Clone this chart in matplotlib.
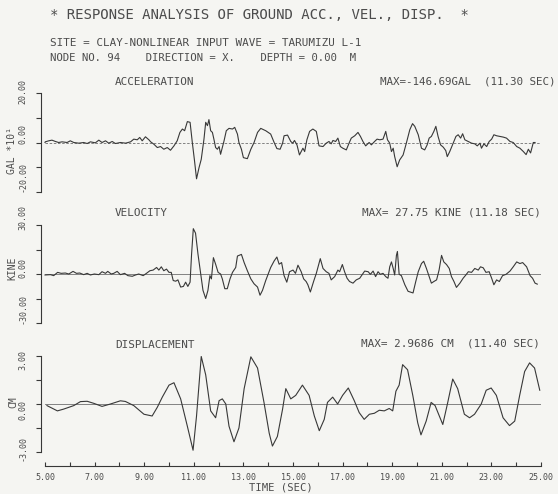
import matplotlib
matplotlib.use("Agg")
import matplotlib.pyplot as plt

acc_t = [5.00, 5.01, 5.15, 5.28, 5.42, 5.55, 5.69, 5.89, 6.02, 6.16, 6.36, 6.56, 6.70, 6.83, 7.03, 7.17,
         7.30, 7.44, 7.57, 7.71, 7.84, 8.04, 8.25, 8.45, 8.58, 8.72, 8.82, 8.92, 9.05, 9.19, 9.26, 9.39,
         9.53, 9.66, 9.79, 9.93, 10.06, 10.20, 10.33, 10.44, 10.54, 10.63, 10.74, 10.85, 10.94, 11.03,
         11.11, 11.21, 11.30, 11.41, 11.48, 11.55, 11.61, 11.68, 11.75, 11.81, 11.88, 11.95, 12.02, 12.08,
         12.15, 12.22, 12.31, 12.42, 12.56, 12.65, 12.76, 12.82, 12.92, 13.00, 13.16, 13.30, 13.43, 13.57,
         13.70, 13.90, 14.10, 14.24, 14.35, 14.48, 14.58, 14.64, 14.78, 14.91, 14.99, 15.06, 15.16, 15.26,
         15.40, 15.47, 15.56, 15.67, 15.80, 15.94, 16.05, 16.21, 16.34, 16.45, 16.54, 16.61, 16.72, 16.81,
         16.91, 17.01, 17.15, 17.26, 17.35, 17.49, 17.62, 17.72, 17.82, 17.93, 18.07, 18.16, 18.29, 18.39,
         18.50, 18.63, 18.74, 18.81, 18.90, 18.97, 19.04, 19.10, 19.20, 19.30, 19.44, 19.57, 19.71, 19.82,
         19.91, 20.05, 20.18, 20.31, 20.41, 20.49, 20.58, 20.68, 20.76, 20.85, 20.95, 21.06, 21.16, 21.22,
         21.32, 21.46, 21.57, 21.66, 21.76, 21.84, 21.93, 22.07, 22.20, 22.33, 22.43, 22.54, 22.60, 22.70,
         22.81, 22.91, 23.01, 23.10, 23.21, 23.34, 23.48, 23.61, 23.75, 23.88, 24.02, 24.15, 24.29, 24.40,
         24.49, 24.58, 24.69, 24.76]
# acceleration in GAL*10
acc_v = [0.00, 0.27, 0.68, 0.95, 0.41, 0.00, 0.27, 0.00, 0.68, 0.00, -0.27, 0.00, -0.41, 0.27, -0.14, 0.95,
         0.00, 0.68, -0.27, 0.41, -0.41, 0.00, -0.27, 0.27, 1.36, 1.09, 2.04, 0.68, 2.31, 1.09, 0.27, -0.68,
         -2.04, -1.63, -2.72, -2.04, -3.13, -1.36, 0.68, 4.08, 5.44, 4.76, 8.44, 8.16, 0.00, -7.48,
         -14.67, -10.20, -6.80, 1.36, 8.16, 6.80, 9.25, 4.76, 4.08, 1.36, -2.04, -2.72, -1.63, -4.76,
         -2.04, 0.68, 4.76, 5.71, 5.44, 6.12, 3.40, 0.00, -2.72, -6.12, -6.53, -2.72, 0.00, 4.08,
         5.71, 4.76, 3.40, 0.00, -2.45, -2.72, -0.27, 2.72, 2.99, 0.41, -0.27, 0.82, -0.95, -5.03,
         -2.31, -3.67, 1.09, 4.49, 5.44, 4.49, -1.36, -1.63, -0.27, 0.41, -0.54, 0.82, 0.41, 1.77,
         -1.63, -2.31, -2.99, -0.27, 1.77, 2.72, 4.08, 2.45, 0.41, -1.36, 0.00, -0.95, 0.41, 1.36,
         1.09, 1.36, 4.49, 1.09, -0.27, -3.67, -2.31, -5.71, -9.80, -7.07, -5.03, -0.27, 5.17, 7.62,
         6.53, 3.13, -2.31, -2.99, -0.95, 1.77, 2.45, 4.49, 6.53, 2.45, -0.95, -1.90, -3.27, -5.71,
         -3.67, -0.27, 2.45, 3.13, 1.77, 3.54, 1.09, 0.41, -0.27, -0.54, -1.36, -0.27, -2.31, -0.54,
         -1.63, 0.41, 1.36, 3.13, 2.72, 2.45, 2.18, 1.77, 0.41, 0.00, -1.63, -2.31, -3.67, -4.90,
         -2.72, -4.22, 0.00, 0.00]

vel_t = [5.00, 5.22, 5.35, 5.51, 5.65, 5.82, 5.96, 6.13, 6.27, 6.40, 6.56, 6.70, 6.83, 6.99, 7.17, 7.30,
         7.44, 7.53, 7.67, 7.77, 7.91, 8.04, 8.21, 8.34, 8.52, 8.65, 8.78, 8.96, 9.09, 9.23, 9.36, 9.50,
         9.59, 9.69, 9.79, 9.90, 10.00, 10.09, 10.17, 10.27, 10.36, 10.47, 10.58, 10.67, 10.76, 10.85,
         10.91, 10.98, 11.07, 11.17, 11.28, 11.37, 11.48, 11.57, 11.65, 11.71, 11.79, 11.88, 11.98, 12.08,
         12.15, 12.25, 12.35, 12.46, 12.56, 12.69, 12.76, 12.92, 13.03, 13.16, 13.30, 13.43, 13.57, 13.67,
         13.77, 13.90, 14.10, 14.24, 14.35, 14.44, 14.54, 14.64, 14.75, 14.86, 15.00, 15.10, 15.20, 15.33,
         15.43, 15.53, 15.60, 15.70, 15.83, 15.94, 16.10, 16.21, 16.34, 16.45, 16.54, 16.68, 16.81, 16.88,
         16.99, 17.08, 17.18, 17.28, 17.42, 17.55, 17.69, 17.80, 17.89, 18.03, 18.12, 18.23, 18.33, 18.43,
         18.52, 18.63, 18.74, 18.83, 18.90, 18.97, 19.04, 19.10, 19.17, 19.21, 19.28, 19.37, 19.51, 19.64,
         19.84, 19.95, 20.05, 20.18, 20.27, 20.38, 20.49, 20.58, 20.68, 20.79, 20.89, 20.99, 21.08, 21.19,
         21.30, 21.39, 21.49, 21.59, 21.73, 21.86, 21.97, 22.07, 22.20, 22.33, 22.47, 22.56, 22.67, 22.78,
         22.91, 23.01, 23.10, 23.21, 23.32, 23.45, 23.59, 23.75, 23.88, 24.02, 24.15, 24.26, 24.42, 24.56,
         24.66, 24.76, 24.85]
# velocity in KINE (cm/s)
vel_v = [-0.6, -0.4, -1.0, 1.0, 0.4, 0.6, 0.0, 1.6, 0.4, 0.6, -0.4, 0.4, -0.6, 0.0, -0.4, 1.4,
         0.4, 1.6, 0.0, 0.4, 1.6, -0.4, 0.4, -1.0, -1.4, -0.6, 0.0, -1.0, 0.4, 2.0, 2.4, 4.0,
         2.4, 4.4, 2.0, 3.0, 1.0, 1.0, -4.0, -4.4, -3.6, -8.0, -7.6, -5.0, -7.6, -5.0,
         12.0, 27.75, 25.0, 12.0, 0.0, -10.0, -15.0, -10.0, -1.0, -3.0, 10.0, 6.0, 1.0, 0.0,
         -3.0, -9.0, -9.0, -3.0, 1.0, 4.0, 11.0, 12.0, 7.0, 2.0, -3.0, -6.0, -8.0, -13.0,
         -10.0, -4.0, 4.0, 8.0, 10.4, 6.0, 7.0, -1.0, -5.0, 1.4, 2.4, 0.4, 5.4, 1.4,
         -3.0, -4.6, -6.6, -11.0, -4.6, 0.4, 9.4, 3.4, 1.4, 0.4, -3.6, -1.6, 2.4, 1.4,
         5.8, 1.4, -2.6, -4.6, -5.6, -3.6, -2.6, -0.2, 1.8, 1.4, -0.2, 1.8, -1.6, 1.4,
         -0.2, 0.4, -1.6, -2.6, 4.4, 7.4, 3.4, -0.6, 11.4, 13.8, -0.2, -1.0, -6.6, -10.6,
         -11.6, -4.6, 1.4, 6.4, 7.8, 3.4, -1.6, -5.6, -4.6, -3.6, 2.4, 11.4, 7.4, 5.8,
         3.4, -1.6, -4.6, -8.2, -5.6, -2.6, -0.6, 1.4, 1.0, 3.4, 2.4, 4.4, 3.8, 1.0,
         1.4, -2.6, -6.6, -3.6, -4.6, -1.0, -0.2, 1.8, 4.4, 7.4, 6.4, 7.0, 4.4, -1.0,
         -2.6, -5.6, -6.2]

disp_t = [5.08, 5.50, 5.75, 6.16, 6.43, 6.70, 6.97, 7.30, 7.64, 8.04, 8.24, 8.58, 8.99, 9.32, 9.53, 9.73,
          10.00, 10.20, 10.47, 10.74, 10.97, 11.11, 11.30, 11.48, 11.68, 11.88, 12.02, 12.15, 12.29, 12.42,
          12.62, 12.82, 13.03, 13.30, 13.57, 13.83, 14.04, 14.17, 14.37, 14.58, 14.71, 14.91, 15.11, 15.38,
          15.65, 15.86, 16.06, 16.26, 16.39, 16.60, 16.80, 17.00, 17.23, 17.47, 17.67, 17.87, 18.08, 18.28,
          18.48, 18.68, 18.88, 19.02, 19.15, 19.28, 19.42, 19.62, 19.83, 20.03, 20.16, 20.37, 20.57, 20.73,
          20.90, 21.04, 21.24, 21.44, 21.64, 21.91, 22.12, 22.32, 22.59, 22.79, 22.99, 23.20, 23.47, 23.73,
          23.94, 24.14, 24.34, 24.54, 24.74, 24.95]
# displacement in CM
disp_v = [-0.10, -0.43, -0.32, -0.10, 0.15, 0.17, 0.04, -0.15, 0.00, 0.20, 0.16, -0.10, -0.64, -0.75, -0.20, 0.43,
          1.18, 1.33, 0.32, -1.39, -2.89, -0.75, 2.97, 1.82, -0.43, -0.86, 0.21, 0.32, 0.00, -1.39,
          -2.36, -1.50, 0.96, 2.95, 2.25, 0.10, -1.82, -2.63, -2.03, -0.32, 0.96, 0.32, 0.54, 1.18,
          0.54, -0.75, -1.67, -0.96, 0.10, 0.43, 0.00, 0.54, 1.00, 0.21, -0.54, -0.96, -0.64, -0.58,
          -0.39, -0.43, -0.28, -0.43, 0.80, 1.18, 2.46, 2.14, 0.54, -1.18, -1.93, -1.07, 0.10, -0.10,
          -0.75, -1.28, 0.10, 1.56, 0.96, -0.64, -0.86, -0.64, 0.00, 0.86, 1.00, 0.54, -0.86, -1.35,
          -1.07, 0.54, 2.03, 2.57, 2.25, 0.86]

time_ticks = [5, 7, 9, 11, 13, 15, 17, 19, 21, 23, 25]
time_labels = ["%.2f" % t for t in time_ticks]

W, H = 558, 494
INK = "#383838"
TXT = "#4c4c4c"
FONT = "DejaVu Sans Mono"

fig = plt.figure(figsize=(W / 100, H / 100), dpi=100, facecolor="#f5f5f2")


def box(left, top, right, bottom):
    return [left / W, 1 - bottom / H, (right - left) / W, (bottom - top) / H]


def txt(x, y, s, size=7.8, ha="left", rot=0):
    fig.text(x / W, 1 - y / H, s, fontsize=size, ha=ha, va="center", rotation=rot,
             color=TXT, family=FONT)


# t = 5 at px 45, t = 25 at px 541
px_per_s = (541 - 45) / 20.0
ax_left = 41
xmin = 5 - (45 - ax_left) / px_per_s


def panel(top, bottom, ylim, zero_dash):
    ax = fig.add_axes(box(ax_left, top, 541, bottom))
    ax.set_facecolor("none")
    ax.set_xlim(xmin, 25)
    ax.set_ylim(-ylim, ylim)
    for s in ["top", "right", "bottom"]:
        ax.spines[s].set_visible(False)
    ax.spines["left"].set_color(INK)
    ax.spines["left"].set_linewidth(0.8)
    ax.set_yticks([-ylim, -ylim / 2, 0, ylim / 2, ylim])
    ax.set_yticklabels([])
    ax.tick_params(axis="y", direction="out", length=3.5, width=0.8, color=INK)
    ax.set_xticks([])
    ax.axhline(0, xmin=(5 - xmin) / (25 - xmin), color="#707070", lw=0.6,
               ls=(0, (3, 2)) if zero_dash else "-")
    return ax


ax_acc = panel(93, 192, 20, True)
ax_acc.plot(acc_t, acc_v, color=INK, lw=0.8)

ax_vel = panel(225, 323, 30, False)
ax_vel.plot(vel_t, vel_v, color=INK, lw=0.8)

ax_dis = panel(356, 452, 3, False)
ax_dis.plot(disp_t, disp_v, color=INK, lw=0.8)
ax_dis.spines["bottom"].set_visible(True)
ax_dis.spines["bottom"].set_position(("outward", 14 * 0.72))
ax_dis.spines["bottom"].set_bounds(5, 25)
ax_dis.spines["bottom"].set_color(INK)
ax_dis.spines["bottom"].set_linewidth(0.8)
ax_dis.set_xticks(time_ticks)
ax_dis.set_xticks(range(5, 26), minor=True)
ax_dis.set_xticklabels(time_labels, fontsize=6, color=TXT, family=FONT)
ax_dis.tick_params(axis="x", which="both", direction="in", length=3, width=0.8,
                   color=INK, pad=5)

# headings
txt(50, 15, "* RESPONSE ANALYSIS OF GROUND ACC., VEL., DISP.  *", size=10.1)
txt(50, 43, "SITE = CLAY-NONLINEAR INPUT WAVE = TARUMIZU L-1", size=7.9)
txt(50, 58, "NODE NO. 94    DIRECTION = X.    DEPTH = 0.00  M", size=7.7)

txt(115, 82, "ACCELERATION", size=7.9)
txt(556, 82, "MAX=-146.69GAL  (11.30 SEC)", size=7.8, ha="right")
txt(115, 213, "VELOCITY", size=7.9)
txt(541, 212, "MAX= 27.75 KINE (11.18 SEC)", size=7.9, ha="right")
txt(115, 345, "DISPLACEMENT", size=7.9)
txt(540, 343, "MAX= 2.9686 CM  (11.40 SEC)", size=7.9, ha="right")
txt(281, 487, "TIME (SEC)", size=7.6, ha="center")

# y tick labels and units (rotated, as plotted)
txt(23, 91, "20.00", size=6, ha="center", rot=90)
txt(23, 134, "0.00", size=6, ha="center", rot=90)
txt(23, 177, "-20.00", size=6, ha="center", rot=90)
txt(12, 150, "GAL *10¹", size=7, ha="center", rot=90)

txt(23, 217, "30.00", size=6, ha="center", rot=90)
txt(23, 268, "0.00", size=6, ha="center", rot=90)
txt(23, 309, "-30.00", size=6, ha="center", rot=90)
txt(12, 268, "KINE", size=7, ha="center", rot=90)

txt(23, 360, "3.00", size=6, ha="center", rot=90)
txt(23, 410, "0.00", size=6, ha="center", rot=90)
txt(23, 448, "-3.00", size=6, ha="center", rot=90)
txt(13, 402, "CM", size=7, ha="center", rot=90)

fig.savefig("out.png", dpi=100, facecolor=fig.get_facecolor())
